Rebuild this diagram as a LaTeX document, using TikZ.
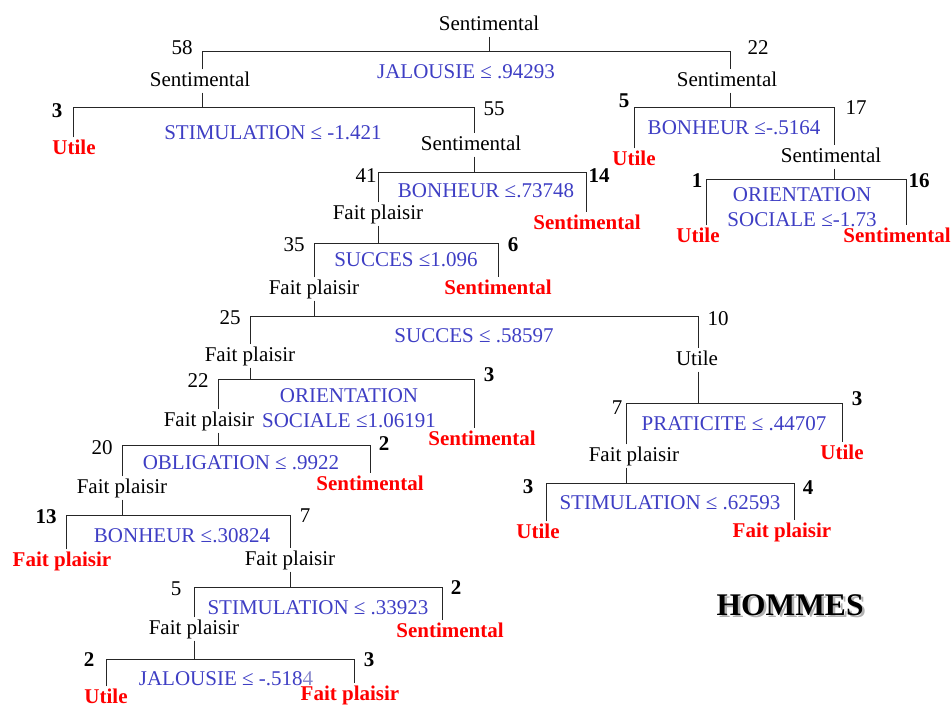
\documentclass[tikz,border=0pt]{standalone}
\usepackage{fontspec}
\setmainfont{Liberation Serif}
\newcommand\fsz{\fontsize{21}{25}\selectfont}
\newcommand\bigfsz{\fontsize{31.5}{36}\selectfont}
\definecolor{condblue}{RGB}{62,62,196}
\definecolor{fadeblue}{RGB}{135,135,205}
\definecolor{leafred}{RGB}{255,0,0}
\begin{document}
\begin{tikzpicture}[x=1pt,y=-1pt,
  lbl/.style={font=\fsz, inner xsep=1pt, inner ysep=2pt, text height=14.5pt, text depth=4.5pt},
  leaf/.style={lbl, text=leafred, font=\fsz\bfseries},
  cnd/.style={font=\fsz, text=condblue, inner xsep=1pt, inner ysep=2pt, text height=14.5pt, text depth=4.5pt},
  cnd2/.style={font=\fsz, text=condblue, align=center, inner sep=1pt},
  cnt/.style={font=\fsz, inner sep=0pt, text height=14.5pt, text depth=4.5pt},
  bcnt/.style={cnt, font=\fsz\bfseries},
  br/.style={line width=0.9pt, draw=black!85}]
\useasboundingbox (0,0) rectangle (951,707);

% ---------- root and split A ----------
\node[lbl] (root) at (489,25) {Sentimental};
\coordinate (aL) at (202,51); \coordinate (aR) at (730,51);
\node[cnd] (cA) at (466,73) {JALOUSIE ≤ .94293};
\node[cnt] (kA1) at (182,49) {58};
\node[cnt] (kA2) at (758,49) {22};
\node[lbl] (n58) at (200,81) {Sentimental};
\node[lbl] (n22) at (727,81) {Sentimental};
\draw[br] (root.south) -- (root.south |- aL);
\draw[br] (aL |- n58.north) -- (aL) -- (aR) -- (aR |- n22.north);

% ---------- split B (STIMULATION <= -1.421) ----------
\coordinate (bL) at (73,107); \coordinate (bR) at (474,107);
\node[cnd] (cB) at (273,134) {STIMULATION ≤ -1.421};
\node[bcnt] (kB1) at (57,112) {3};
\node[cnt] (kB2) at (494,110) {55};
\node[leaf] (lB1) at (74,149) {Utile};
\node[lbl] (n55) at (471,145) {Sentimental};
\draw[br] (aL |- n58.south) -- (aL |- bL);
\draw[br] (bL |- lB1.north) -- (bL) -- (bR) -- (bR |- n55.north);

% ---------- split C (BONHEUR <= -.5164) ----------
\coordinate (cL) at (634,107); \coordinate (cR) at (834,107);
\node[cnd] (cC) at (734,129) {BONHEUR ≤-.5164};
\node[bcnt] (kC1) at (624,102) {5};
\node[cnt] (kC2) at (856,109) {17};
\node[leaf] (lC1) at (634,160) {Utile};
\node[lbl] (n17) at (831,157) {Sentimental};
\draw[br] (aR |- n22.south) -- (aR |- cL);
\draw[br] (cL |- lC1.north) -- (cL) -- (cR) -- (cR |- n17.north);

% ---------- split D (ORIENTATION SOCIALE <= -1.73) ----------
\coordinate (dL) at (706,179); \coordinate (dR) at (906,179);
\node[cnd2] (cD) at (802,207) {ORIENTATION\\SOCIALE ≤-1.73};
\node[bcnt] (kD1) at (697,182) {1};
\node[bcnt] (kD2) at (919,182) {16};
\node[leaf] (lD1) at (698,237) {Utile};
\node[leaf] (lD2) at (897,237) {Sentimental};
\draw[br] (cR |- n17.south) -- (cR |- dL);
\draw[br] (dL |- lD1.north) -- (dL) -- (dR) -- (dR |- lD2.north);

% ---------- split E (BONHEUR <= .73748) ----------
\coordinate (eL) at (378,172); \coordinate (eR) at (586,172);
\node[cnd] (cE) at (486,192) {BONHEUR ≤.73748};
\node[cnt] (kE1) at (366,177) {41};
\node[bcnt] (kE2) at (599,177) {14};
\node[leaf] (lE2) at (587,224) {Sentimental};
\node[lbl] (n41) at (378,214) {Fait plaisir};
\draw[br] (bR |- n55.south) -- (bR |- eL);
\draw[br] (eL |- n41.north) -- (eL) -- (eR) -- (eR |- lE2.north);

% ---------- split F (SUCCES <= 1.096) ----------
\coordinate (fL) at (314,243); \coordinate (fR) at (498,243);
\node[cnd] (cF) at (406,261) {SUCCES ≤1.096};
\node[cnt] (kF1) at (294,246) {35};
\node[bcnt] (kF2) at (513,246) {6};
\node[leaf] (lF2) at (498,289) {Sentimental};
\node[lbl] (n35) at (314,289) {Fait plaisir};
\draw[br] (eL |- n41.south) -- (eL |- fL);
\draw[br] (fL |- n35.north) -- (fL) -- (fR) -- (fR |- lF2.north);

% ---------- split G (SUCCES <= .58597) ----------
\coordinate (gL) at (250,316); \coordinate (gR) at (698,316);
\node[cnd] (cG) at (474,337) {SUCCES ≤ .58597};
\node[cnt] (kG1) at (230,319) {25};
\node[cnt] (kG2) at (718,320) {10};
\node[lbl] (n25) at (250,356) {Fait plaisir};
\node[lbl] (n10) at (697,360) {Utile};
\draw[br] (fL |- n35.south) -- (fL |- gL);
\draw[br] (gL |- n25.north) -- (gL) -- (gR) -- (gR |- n10.north);

% ---------- split H (ORIENTATION SOCIALE <= 1.06191) ----------
\coordinate (hL) at (218,379); \coordinate (hR) at (474,379);
\node[cnd2] (cH) at (349,408) {ORIENTATION\\SOCIALE ≤1.06191};
\node[cnt] (kH1) at (198,382) {22};
\node[bcnt] (kH2) at (489,376) {3};
\node[leaf] (lH2) at (482,440) {Sentimental};
\node[lbl] (n22b) at (209,421) {Fait plaisir};
\draw[br] (gL |- n25.south) -- (gL |- hL);
\draw[br] (hL |- n22b.north) -- (hL) -- (hR) -- (hR |- lH2.north);

% ---------- split I (OBLIGATION <= .9922) ----------
\coordinate (iL) at (122,445); \coordinate (iR) at (370,445);
\node[cnd] (cI) at (241,464) {OBLIGATION ≤ .9922};
\node[cnt] (kI1) at (102,449) {20};
\node[bcnt] (kI2) at (384,445) {2};
\node[leaf] (lI2) at (370,485) {Sentimental};
\node[lbl] (n20) at (122,488) {Fait plaisir};
\draw[br] (hL |- n22b.south) -- (hL |- iL);
\draw[br] (iL |- n20.north) -- (iL) -- (iR) -- (iR |- lI2.north);

% ---------- split J (BONHEUR <= .30824) ----------
\coordinate (jL) at (66,515); \coordinate (jR) at (290,515);
\node[cnd] (cJ) at (182,537) {BONHEUR ≤.30824};
\node[bcnt] (kJ1) at (46,518) {13};
\node[cnt] (kJ2) at (305,517) {7};
\node[leaf] (lJ1) at (62,561) {Fait plaisir};
\node[lbl] (n7) at (290,560) {Fait plaisir};
\draw[br] (iL |- n20.south) -- (iL |- jL);
\draw[br] (jL |- lJ1.north) -- (jL) -- (jR) -- (jR |- n7.north);

% ---------- split K (STIMULATION <= .33923) ----------
\coordinate (kL) at (194,587); \coordinate (kR) at (442,587);
\node[cnd] (cK) at (318,609) {STIMULATION ≤ .33923};
\node[cnt] (kK1) at (176,590) {5};
\node[bcnt] (kK2) at (456,589) {2};
\node[leaf] (lK2) at (450,632) {Sentimental};
\node[lbl] (n5) at (194,629) {Fait plaisir};
\draw[br] (jR |- n7.south) -- (jR |- kL);
\draw[br] (kL |- n5.north) -- (kL) -- (kR) -- (kR |- lK2.north);

% ---------- split L (JALOUSIE <= -.5184) ----------
\coordinate (lL) at (106,659); \coordinate (lR) at (354,659);
\node[cnd] (cL) at (226,680) {JALOUSIE ≤ -.518{\color{fadeblue}4}};
\node[bcnt] (kL1) at (89,661) {2};
\node[bcnt] (kL2) at (369,661) {3};
\node[leaf] (lL1) at (106,698) {Utile};
\node[leaf] (lL2) at (350,695) {Fait plaisir};
\draw[br] (kL |- n5.south) -- (kL |- lL);
\draw[br] (lL |- lL1.north) -- (lL) -- (lR) -- (lR |- lL2.north);

% ---------- split M (PRATICITE <= .44707) ----------
\coordinate (mL) at (626,403); \coordinate (mR) at (842,403);
\node[cnd] (cM) at (734,425) {PRATICITE ≤ .44707};
\node[cnt] (kM1) at (617,409) {7};
\node[bcnt] (kM2) at (857,400) {3};
\node[leaf] (lM2) at (842,454) {Utile};
\node[lbl] (n7b) at (634,456) {Fait plaisir};
\draw[br] (gR |- n10.south) -- (gR |- mL);
\draw[br] (mL |- n7b.north) -- (mL) -- (mR) -- (mR |- lM2.north);

% ---------- split N (STIMULATION <= .62593) ----------
\coordinate (nL) at (546,483); \coordinate (nR) at (794,483);
\node[cnd] (cN) at (670,504) {STIMULATION ≤ .62593};
\node[bcnt] (kN1) at (528,488) {3};
\node[bcnt] (kN2) at (808,489) {4};
\node[leaf] (lN1) at (538,533) {Utile};
\node[leaf] (lN2) at (782,532) {Fait plaisir};
\draw[br] (mL |- n7b.south) -- (mL |- nL);
\draw[br] (nL |- lN1.north) -- (nL) -- (nR) -- (nR |- lN2.north);

% ---------- title ----------
\node[font=\bigfsz\bfseries, text=black!30, anchor=base, inner sep=0pt] (titleshadow) at (792.5,617.5) {HOMMES};
\node[font=\bigfsz\bfseries, text=black, anchor=base, inner sep=0pt] (title) at (790,615) {HOMMES};
\end{tikzpicture}
\end{document}
